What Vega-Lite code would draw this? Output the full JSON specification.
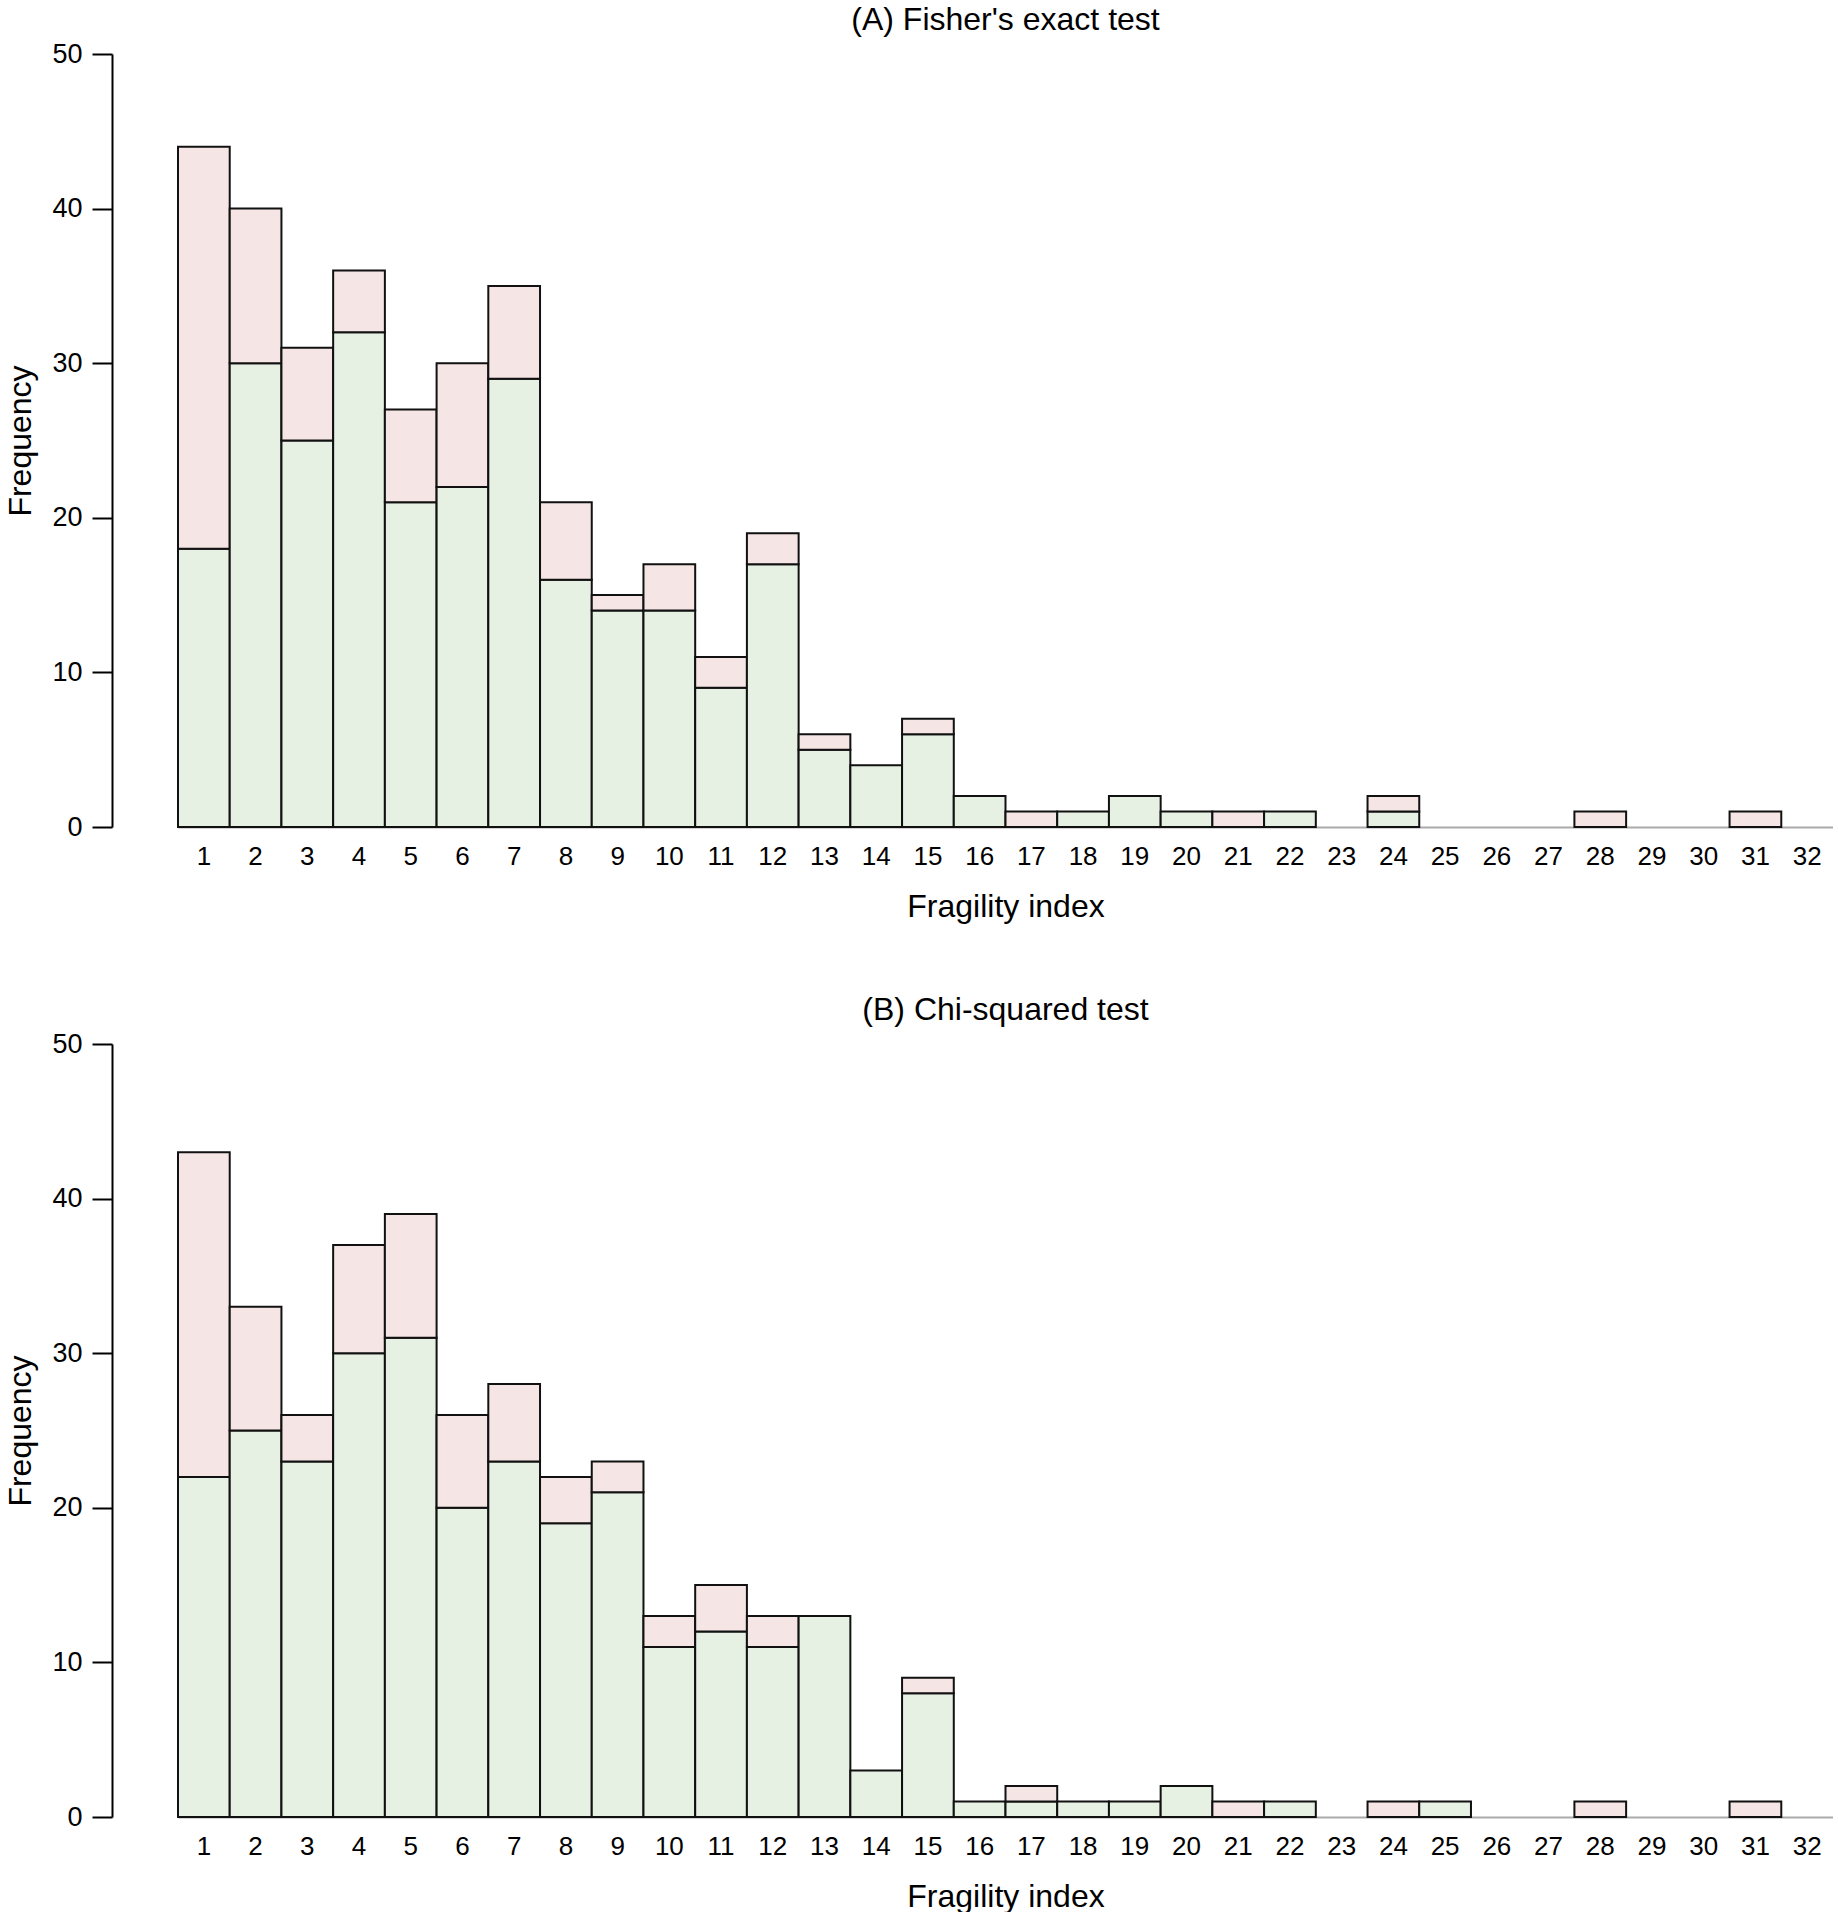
{
  "$schema": "https://vega.github.io/schema/vega-lite/v6.json",
  "background": "white",
  "padding": {"left": 4, "top": 4, "right": 0, "bottom": 0},
  "config": {"font": "Liberation Sans", "view": {"stroke": null}, "concat": {"spacing": 72}},
  "data": {"values": [
    {"panel": "A", "fi": 1, "part": "base", "count": 18}, {"panel": "A", "fi": 1, "part": "top", "count": 26},
    {"panel": "A", "fi": 2, "part": "base", "count": 30}, {"panel": "A", "fi": 2, "part": "top", "count": 10},
    {"panel": "A", "fi": 3, "part": "base", "count": 25}, {"panel": "A", "fi": 3, "part": "top", "count": 6},
    {"panel": "A", "fi": 4, "part": "base", "count": 32}, {"panel": "A", "fi": 4, "part": "top", "count": 4},
    {"panel": "A", "fi": 5, "part": "base", "count": 21}, {"panel": "A", "fi": 5, "part": "top", "count": 6},
    {"panel": "A", "fi": 6, "part": "base", "count": 22}, {"panel": "A", "fi": 6, "part": "top", "count": 8},
    {"panel": "A", "fi": 7, "part": "base", "count": 29}, {"panel": "A", "fi": 7, "part": "top", "count": 6},
    {"panel": "A", "fi": 8, "part": "base", "count": 16}, {"panel": "A", "fi": 8, "part": "top", "count": 5},
    {"panel": "A", "fi": 9, "part": "base", "count": 14}, {"panel": "A", "fi": 9, "part": "top", "count": 1},
    {"panel": "A", "fi": 10, "part": "base", "count": 14}, {"panel": "A", "fi": 10, "part": "top", "count": 3},
    {"panel": "A", "fi": 11, "part": "base", "count": 9}, {"panel": "A", "fi": 11, "part": "top", "count": 2},
    {"panel": "A", "fi": 12, "part": "base", "count": 17}, {"panel": "A", "fi": 12, "part": "top", "count": 2},
    {"panel": "A", "fi": 13, "part": "base", "count": 5}, {"panel": "A", "fi": 13, "part": "top", "count": 1},
    {"panel": "A", "fi": 14, "part": "base", "count": 4},
    {"panel": "A", "fi": 15, "part": "base", "count": 6}, {"panel": "A", "fi": 15, "part": "top", "count": 1},
    {"panel": "A", "fi": 16, "part": "base", "count": 2},
    {"panel": "A", "fi": 17, "part": "top", "count": 1},
    {"panel": "A", "fi": 18, "part": "base", "count": 1},
    {"panel": "A", "fi": 19, "part": "base", "count": 2},
    {"panel": "A", "fi": 20, "part": "base", "count": 1},
    {"panel": "A", "fi": 21, "part": "top", "count": 1},
    {"panel": "A", "fi": 22, "part": "base", "count": 1},
    {"panel": "A", "fi": 24, "part": "base", "count": 1}, {"panel": "A", "fi": 24, "part": "top", "count": 1},
    {"panel": "A", "fi": 28, "part": "top", "count": 1},
    {"panel": "A", "fi": 31, "part": "top", "count": 1},
    {"panel": "B", "fi": 1, "part": "base", "count": 22}, {"panel": "B", "fi": 1, "part": "top", "count": 21},
    {"panel": "B", "fi": 2, "part": "base", "count": 25}, {"panel": "B", "fi": 2, "part": "top", "count": 8},
    {"panel": "B", "fi": 3, "part": "base", "count": 23}, {"panel": "B", "fi": 3, "part": "top", "count": 3},
    {"panel": "B", "fi": 4, "part": "base", "count": 30}, {"panel": "B", "fi": 4, "part": "top", "count": 7},
    {"panel": "B", "fi": 5, "part": "base", "count": 31}, {"panel": "B", "fi": 5, "part": "top", "count": 8},
    {"panel": "B", "fi": 6, "part": "base", "count": 20}, {"panel": "B", "fi": 6, "part": "top", "count": 6},
    {"panel": "B", "fi": 7, "part": "base", "count": 23}, {"panel": "B", "fi": 7, "part": "top", "count": 5},
    {"panel": "B", "fi": 8, "part": "base", "count": 19}, {"panel": "B", "fi": 8, "part": "top", "count": 3},
    {"panel": "B", "fi": 9, "part": "base", "count": 21}, {"panel": "B", "fi": 9, "part": "top", "count": 2},
    {"panel": "B", "fi": 10, "part": "base", "count": 11}, {"panel": "B", "fi": 10, "part": "top", "count": 2},
    {"panel": "B", "fi": 11, "part": "base", "count": 12}, {"panel": "B", "fi": 11, "part": "top", "count": 3},
    {"panel": "B", "fi": 12, "part": "base", "count": 11}, {"panel": "B", "fi": 12, "part": "top", "count": 2},
    {"panel": "B", "fi": 13, "part": "base", "count": 13},
    {"panel": "B", "fi": 14, "part": "base", "count": 3},
    {"panel": "B", "fi": 15, "part": "base", "count": 8}, {"panel": "B", "fi": 15, "part": "top", "count": 1},
    {"panel": "B", "fi": 16, "part": "base", "count": 1},
    {"panel": "B", "fi": 17, "part": "base", "count": 1}, {"panel": "B", "fi": 17, "part": "top", "count": 1},
    {"panel": "B", "fi": 18, "part": "base", "count": 1},
    {"panel": "B", "fi": 19, "part": "base", "count": 1},
    {"panel": "B", "fi": 20, "part": "base", "count": 2},
    {"panel": "B", "fi": 21, "part": "top", "count": 1},
    {"panel": "B", "fi": 22, "part": "base", "count": 1},
    {"panel": "B", "fi": 24, "part": "top", "count": 1},
    {"panel": "B", "fi": 25, "part": "base", "count": 1},
    {"panel": "B", "fi": 28, "part": "top", "count": 1},
    {"panel": "B", "fi": 31, "part": "top", "count": 1}
  ]},
  "vconcat": [
    {
      "width": 1655, "height": 773,
      "title": {"text": "(A) Fisher's exact test", "fontSize": 32, "fontWeight": "normal", "anchor": "middle", "offset": 3, "color": "black"},
      "transform": [{"filter": "datum.panel === 'A'"}],
      "mark": {"type": "bar", "stroke": "#111", "strokeWidth": 2},
      "encoding": {
        "x": {"field": "fi", "type": "ordinal", "scale": {"domain": [1,2,3,4,5,6,7,8,9,10,11,12,13,14,15,16,17,18,19,20,21,22,23,24,25,26,27,28,29,30,31,32], "paddingInner": 0, "paddingOuter": 0},
              "axis": {"title": "Fragility index", "labelAngle": 0, "ticks": false, "tickSize": 0, "labelPadding": 16, "labelFontSize": 26, "titleFontSize": 32, "titleFontWeight": "normal", "titlePadding": 22, "domainColor": "#aaaaaa", "domainWidth": 2, "labelColor": "black", "titleColor": "black"}},
        "y": {"field": "count", "type": "quantitative", "stack": "zero", "scale": {"domain": [0, 50], "nice": false},
              "axis": {"title": "Frequency", "values": [0,10,20,30,40,50], "offset": 66, "tickSize": 20, "tickWidth": 2, "tickColor": "black", "domainColor": "black", "domainWidth": 2, "labelFontSize": 27, "labelPadding": 10, "titleFontSize": 32, "titleFontWeight": "normal", "titlePadding": 14, "grid": false, "labelColor": "black", "titleColor": "black"}},
        "color": {"field": "part", "type": "nominal", "scale": {"domain": ["base", "top"], "range": ["#E6F1E4", "#F5E6E5"]}, "legend": null},
        "order": {"field": "part"}
      }
    },
    {
      "width": 1655, "height": 773,
      "title": {"text": "(B) Chi-squared test", "fontSize": 32, "fontWeight": "normal", "anchor": "middle", "offset": 3, "color": "black"},
      "transform": [{"filter": "datum.panel === 'B'"}],
      "mark": {"type": "bar", "stroke": "#111", "strokeWidth": 2},
      "encoding": {
        "x": {"field": "fi", "type": "ordinal", "scale": {"domain": [1,2,3,4,5,6,7,8,9,10,11,12,13,14,15,16,17,18,19,20,21,22,23,24,25,26,27,28,29,30,31,32], "paddingInner": 0, "paddingOuter": 0},
              "axis": {"title": "Fragility index", "labelAngle": 0, "ticks": false, "tickSize": 0, "labelPadding": 16, "labelFontSize": 26, "titleFontSize": 32, "titleFontWeight": "normal", "titlePadding": 22, "domainColor": "#aaaaaa", "domainWidth": 2, "labelColor": "black", "titleColor": "black"}},
        "y": {"field": "count", "type": "quantitative", "stack": "zero", "scale": {"domain": [0, 50], "nice": false},
              "axis": {"title": "Frequency", "values": [0,10,20,30,40,50], "offset": 66, "tickSize": 20, "tickWidth": 2, "tickColor": "black", "domainColor": "black", "domainWidth": 2, "labelFontSize": 27, "labelPadding": 10, "titleFontSize": 32, "titleFontWeight": "normal", "titlePadding": 14, "grid": false, "labelColor": "black", "titleColor": "black"}},
        "color": {"field": "part", "type": "nominal", "scale": {"domain": ["base", "top"], "range": ["#E6F1E4", "#F5E6E5"]}, "legend": null},
        "order": {"field": "part"}
      }
    }
  ]
}
